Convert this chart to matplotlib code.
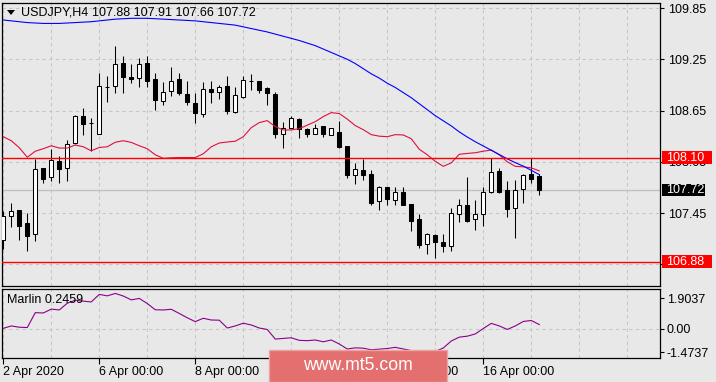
import matplotlib
matplotlib.use('Agg')
import matplotlib.pyplot as plt
from matplotlib.patches import Rectangle, Polygon
from matplotlib.ticker import MultipleLocator
import matplotlib.transforms as mtransforms

plt.rcParams['font.family'] = ['Liberation Sans', 'DejaVu Sans']

# ---------------- data ----------------
symbol = 'USDJPY,H4'
ohlc_title = '107.88 107.91 107.66 107.72'

opens = [107.14, 107.42, 107.49, 107.33, 107.20, 107.98, 107.87, 108.06, 107.98, 108.27,
         108.59, 108.51, 108.37, 108.93, 108.94, 109.21, 109.04, 109.03, 109.21, 109.02,
         108.76, 108.88, 109.02, 108.84, 108.74, 108.61, 108.90, 108.87, 108.94, 108.63,
         108.81, 109.00, 109.00, 108.91, 108.84, 108.38, 108.45, 108.55, 108.43, 108.38,
         108.47, 108.36, 108.40, 108.24, 107.89, 107.95, 107.91, 107.59, 107.76, 107.60,
         107.70, 107.56, 107.38, 107.09, 107.19, 107.11, 107.07, 107.44, 107.55, 107.38,
         107.44, 107.70, 107.94, 107.72, 107.51, 107.73, 107.91, 107.88]
highs = [107.47, 107.57, 107.49, 107.45, 108.08, 107.98, 108.20, 108.12, 108.30, 108.60,
         108.68, 108.56, 109.09, 109.06, 109.40, 109.29, 109.20, 109.26, 109.29, 109.09,
         108.99, 109.16, 109.09, 109.00, 108.85, 108.98, 109.00, 108.95, 109.06, 108.92,
         109.05, 109.08, 109.00, 108.93, 108.87, 108.52, 108.59, 108.56, 108.45, 108.49,
         108.47, 108.45, 108.53, 108.24, 108.04, 108.08, 107.95, 107.77, 107.76, 107.76,
         107.76, 107.56, 107.44, 107.22, 107.21, 107.21, 107.51, 107.61, 107.87, 107.60,
         107.76, 108.09, 107.98, 107.83, 107.84, 107.91, 108.09, 107.91]
lows = [107.03, 107.29, 107.14, 107.00, 107.12, 107.80, 107.82, 107.80, 107.82, 108.26,
        108.36, 108.18, 108.37, 108.75, 108.85, 108.85, 108.97, 108.92, 108.93, 108.66,
        108.72, 108.82, 108.83, 108.72, 108.51, 108.58, 108.74, 108.79, 108.61, 108.62,
        108.80, 108.89, 108.85, 108.72, 108.33, 108.21, 108.45, 108.33, 108.34, 108.37,
        108.34, 108.36, 108.21, 107.86, 107.79, 107.84, 107.55, 107.49, 107.54, 107.55,
        107.55, 107.24, 107.04, 106.97, 106.92, 106.99, 107.00, 107.34, 107.34, 107.25,
        107.30, 107.69, 107.69, 107.40, 107.16, 107.57, 107.80, 107.66]
closes = [107.42, 107.47, 107.30, 107.18, 107.96, 107.85, 108.07, 107.97, 108.26, 108.59,
          108.49, 108.50, 108.94, 108.92, 109.20, 109.04, 109.02, 109.20, 109.00, 108.77,
          108.87, 109.00, 108.85, 108.75, 108.62, 108.90, 108.87, 108.93, 108.65, 108.83,
          109.01, 109.00, 108.89, 108.85, 108.37, 108.45, 108.56, 108.43, 108.38, 108.45,
          108.38, 108.45, 108.22, 107.89, 107.96, 107.89, 107.57, 107.75, 107.61, 107.70,
          107.55, 107.36, 107.08, 107.20, 107.11, 107.07, 107.45, 107.55, 107.36, 107.44,
          107.70, 107.93, 107.70, 107.50, 107.72, 107.89, 107.85, 107.72]

red_ma = [108.344, 108.297, 108.215, 108.103, 108.174, 108.203, 108.238, 108.211, 108.211, 108.246,
          108.226, 108.179, 108.218, 108.226, 108.279, 108.297, 108.277, 108.238, 108.203, 108.132,
          108.091, 108.097, 108.100, 108.100, 108.100, 108.144, 108.226, 108.270, 108.282, 108.291,
          108.344, 108.450, 108.509, 108.532, 108.462, 108.423, 108.423, 108.438, 108.479, 108.520,
          108.579, 108.626, 108.615, 108.550, 108.474, 108.426, 108.368, 108.350, 108.344, 108.368,
          108.364, 108.320, 108.197, 108.132, 108.056, 107.997, 108.038, 108.138, 108.148, 108.156,
          108.174, 108.188, 108.132, 108.050, 107.997, 107.991, 107.979, 107.944]
blue_ma = [109.71, 109.70, 109.69, 109.68, 109.675, 109.67, 109.67, 109.67, 109.675, 109.68,
           109.685, 109.69, 109.70, 109.71, 109.72, 109.725, 109.73, 109.73, 109.73, 109.725,
           109.72, 109.715, 109.71, 109.705, 109.70, 109.69, 109.68, 109.67, 109.66, 109.65,
           109.63, 109.61, 109.59, 109.57, 109.545, 109.52, 109.495, 109.47, 109.44, 109.41,
           109.37, 109.33, 109.29, 109.25, 109.20, 109.14, 109.08, 109.03, 108.97, 108.92,
           108.86, 108.80, 108.73, 108.66, 108.59, 108.53, 108.47, 108.40, 108.34, 108.285,
           108.235, 108.185, 108.135, 108.085, 108.04, 108.00, 107.95, 107.90]
marlin = [0.01, 0.16, 0.08, 0.06, 0.99, 0.97, 1.21, 1.16, 1.58, 1.77,
          1.71, 1.66, 2.13, 2.04, 2.19, 2.03, 1.79, 1.88, 1.56, 1.17,
          1.16, 1.20, 0.94, 0.67, 0.43, 0.64, 0.53, 0.52, 0.03, 0.16,
          0.33, 0.22, 0.03, -0.06, -0.66, -0.62, -0.58, -0.74, -0.76, -0.72,
          -0.83, -0.72, -0.97, -1.28, -1.21, -1.23, -1.33, -1.29, -1.25, -1.18,
          -1.28, -1.38, -1.44, -1.47, -1.44, -1.22, -0.78, -0.54, -0.48, -0.34,
          0.00, 0.32, 0.16, -0.06, 0.16, 0.44, 0.50, 0.2459]

level_hi = 108.10
level_lo = 106.88
last_price = 107.72
price_ticks = [106.85, 107.45, 108.05, 108.65, 109.25, 109.85]
price_tick_labels = ['', '107.45', '108.05', '108.65', '109.25', '109.85']
marlin_ticks = [-1.4737, 0.0, 1.9037]
marlin_tick_labels = ['-1.4737', '0.00', '1.9037']
date_tick_pos = [0, 12, 24, 36, 48, 60]
date_tick_labels = ['2 Apr 2020', '6 Apr 00:00', '8 Apr 00:00', '10 Apr 00:00',
                    '14 Apr 00:00', '16 Apr 00:00']
marlin_label = 'Marlin 0.2459'

# ---------------- layout ----------------
W, H = 716, 382
fig = plt.figure(figsize=(W / 100, H / 100), dpi=100)
bg = '#e8e8e8'
fig.patch.set_facecolor(bg)


def fx(px):
    return px / W


def fy(py):
    return 1 - py / H


ax = fig.add_axes([fx(2), fy(286), fx(660) - fx(2), fy(2.5) - fy(286)])
axm = fig.add_axes([fx(2), fy(357.7), fx(660) - fx(2), fy(288.5) - fy(357.7)], sharex=ax)

for a in (ax, axm):
    a.set_facecolor(bg)
    for s in a.spines.values():
        s.set_color('black')
        s.set_linewidth(0.9)

grid_kw = dict(color='#c6c6c6', linestyle=(0, (3, 3)), linewidth=0.8)

# ---------------- main panel ----------------
bw = 0.5
lw = 0.75
for i, (o, h, l, c) in enumerate(zip(opens, highs, lows, closes)):
    ax.vlines(i, l, h, color='black', linewidth=lw, zorder=3)
    fc = 'white' if c >= o else 'black'
    ax.add_patch(Rectangle((i - bw / 2, min(o, c)), bw, abs(c - o),
                           facecolor=fc, edgecolor='black', linewidth=lw, zorder=3.5))

xs = list(range(len(closes)))
ax.plot(xs, red_ma, color='#e0103c', linewidth=0.8, zorder=4)
ax.plot(xs, blue_ma, color='#0000ff', linewidth=0.8, zorder=4)

ax.axhline(last_price, color='#c0c0c0', linewidth=1.0, zorder=1.5)
ax.axhline(level_hi, color='#ff0000', linewidth=1.0, zorder=4.5)
ax.axhline(level_lo, color='#ff0000', linewidth=1.0, zorder=4.5)

ax.set_xlim(-0.16, 82.09)
ax.set_ylim(106.596, 109.915)
ax.yaxis.tick_right()
ax.set_yticks(price_ticks)
ax.set_yticklabels(price_tick_labels)
ax.tick_params(axis='y', direction='out', length=3, width=0.8, pad=3, labelsize=9,
               colors='black')
ax.tick_params(axis='x', which='both', bottom=False, labelbottom=False)
ax.xaxis.set_minor_locator(MultipleLocator(6))
ax.grid(True, which='both', axis='x', **grid_kw)
ax.grid(True, which='major', axis='y', **grid_kw)
ax.set_axisbelow(True)

# header
fig.add_artist(Polygon([[fx(7), fy(10)], [fx(15), fy(10)], [fx(11), fy(15)]],
                       closed=True, transform=fig.transFigure, facecolor='black',
                       edgecolor='none'))
fig.text(fx(21.5), fy(12.7), symbol, fontsize=9, ha='left', va='center', color='black')
fig.text(fx(91.5), fy(12.7), ohlc_title, fontsize=9, ha='left', va='center', color='black')

# price labels on right
ytrans = mtransforms.blended_transform_factory(fig.transFigure, ax.transData)
px_per_unit = (286 - 2.5) / (109.915 - 106.596)
box_h = 12.5 / px_per_unit
for val, x1, fc in [(level_hi, 712, '#ff0000'), (last_price, 705, '#000000'),
                    (level_lo, 712, '#ff0000')]:
    r = Rectangle((fx(662), val - box_h / 2), fx(x1) - fx(662), box_h,
                  transform=ytrans, facecolor=fc, edgecolor='none', clip_on=False,
                  zorder=10)
    ax.add_artist(r)
    ax.text(fx(666), val, f'{val:.2f}', transform=ytrans, ha='left', va='center',
            fontsize=9, color='white', clip_on=False, zorder=11)

# ---------------- Marlin panel ----------------
axm.plot(xs, marlin, color='#8b008b', linewidth=0.8, zorder=3)
axm.axhline(0, **grid_kw)
axm.set_ylim(-1.825, 2.5)
axm.yaxis.tick_right()
axm.set_yticks(marlin_ticks)
axm.set_yticklabels(marlin_tick_labels)
axm.tick_params(axis='y', direction='out', length=3, width=0.8, pad=2, labelsize=9,
                colors='black')
axm.set_xticks(date_tick_pos)
axm.set_xticklabels(date_tick_labels)
axm.xaxis.set_minor_locator(MultipleLocator(6))
axm.tick_params(axis='x', which='major', direction='out', length=4, width=0.8, pad=2,
                labelsize=9, colors='black')
axm.tick_params(axis='x', which='minor', length=0)
for lbl in axm.get_xticklabels():
    lbl.set_horizontalalignment('left')
axm.grid(True, which='both', axis='x', **grid_kw)
axm.set_axisbelow(True)
axm.text(fx(7), fy(300), marlin_label, transform=fig.transFigure, ha='left',
         va='center', fontsize=9, color='black')

# watermark
fig.add_artist(Rectangle((fx(269), fy(382)), fx(447) - fx(269), fy(350) - fy(382),
                         transform=fig.transFigure, facecolor='#e36f6f',
                         edgecolor='#eea3a3', linewidth=1.0, zorder=20))
fig.text(fx(358), fy(366), 'www.mt5.com', fontsize=12.7, color='white', ha='center',
         va='center', zorder=21)

fig.savefig('out.png', dpi=100, facecolor=bg)
